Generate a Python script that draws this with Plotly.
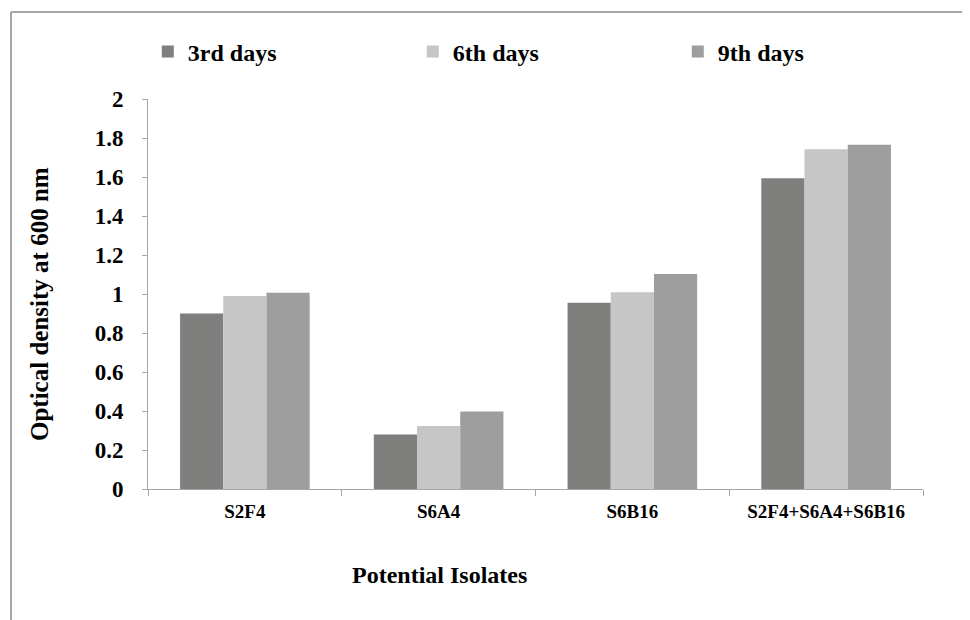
import plotly.graph_objects as go

categories = ["S2F4", "S6A4", "S6B16", "S2F4+S6A4+S6B16"]
series_names = ["3rd days", "6th days", "9th days"]
day3 = [0.90, 0.28, 0.955, 1.593]
day6 = [0.99, 0.323, 1.009, 1.742]
day9 = [1.007, 0.397, 1.103, 1.766]
colors = ["#7f7f7e", "#c6c6c6", "#9d9e9d"]
y_ticks = [0, 0.2, 0.4, 0.6, 0.8, 1, 1.2, 1.4, 1.6, 1.8, 2]
x_title = "Potential Isolates"
y_title = "Optical density at 600 nm"

FONT = "Times New Roman"
AX = "#a6a6a6"

fig = go.Figure()
for name, vals, col in zip(series_names, [day3, day6, day9], colors):
    fig.add_trace(go.Bar(
        x=categories, y=vals, name=name,
        marker=dict(color=col, line=dict(width=0)),
    ))

OFF = 8  # page body margin
W, H = 970 - OFF, 620 - OFF
L, T = 148 - OFF, 99 - OFF
pw, ph = 775, 390
R, B = W - L - pw, H - T - ph

def px2paper_x(sx):
    return (sx - OFF - L) / pw

def px2paper_y(sy):
    return (T + ph - (sy - OFF)) / ph

fig.update_layout(
    width=W, height=H,
    margin=dict(l=L, r=R, t=T, b=B, autoexpand=False),
    paper_bgcolor="white", plot_bgcolor="white",
    barmode="group", bargap=0.331, bargroupgap=0,
    font=dict(family=FONT, color="black", weight="bold"),
    showlegend=True,
    legend=dict(
        orientation="h", x=px2paper_x(147.8), xanchor="left",
        y=px2paper_y(52), yanchor="middle",
        bgcolor="rgba(0,0,0,0)",
        font=dict(family=FONT, size=24, color="black", weight="bold"),
        entrywidth=220, entrywidthmode="pixels",
        itemwidth=30, traceorder="normal",
    ),
    xaxis=dict(
        showline=True, linecolor=AX, linewidth=1,
        ticks="outside", ticklen=6, tickcolor=AX,
        tickson="boundaries", ticklabelstandoff=5,
        tickfont=dict(family=FONT, size=19, color="black", weight="bold"),
        showgrid=False,
    ),
    yaxis=dict(
        range=[0, 2], tickvals=y_ticks,
        ticktext=[f"{v:g}" for v in y_ticks],
        showline=True, linecolor=AX, linewidth=1,
        ticks="outside", ticklen=5, tickcolor=AX,
        ticklabelstandoff=14,
        tickfont=dict(family=FONT, size=23, color="black", weight="bold"),
        showgrid=False, zeroline=False,
    ),
    annotations=[
        dict(text=x_title, xref="paper", yref="paper",
             x=px2paper_x(439), y=px2paper_y(575),
             xanchor="center", yanchor="middle", showarrow=False,
             font=dict(family=FONT, size=24, color="black", weight="bold")),
        dict(text=y_title, xref="paper", yref="paper", textangle=-90,
             x=px2paper_x(39), y=px2paper_y(304),
             xanchor="center", yanchor="middle", showarrow=False,
             font=dict(family=FONT, size=25, color="black", weight="bold")),
    ],
)

fig.add_shape(type="line", xref="paper", yref="paper",
              x0=px2paper_x(11), x1=px2paper_x(980), y0=px2paper_y(12), y1=px2paper_y(12),
              line=dict(color=AX, width=2))
fig.add_shape(type="line", xref="paper", yref="paper",
              x0=px2paper_x(11), x1=px2paper_x(11), y0=px2paper_y(12), y1=px2paper_y(630),
              line=dict(color=AX, width=2))

fig.write_html("out.html")
